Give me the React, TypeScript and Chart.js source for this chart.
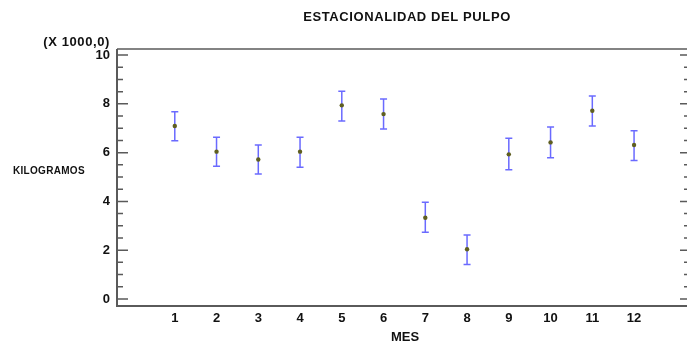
import React, { useEffect, useRef } from "react";
import { Chart, registerables } from "chart.js";

Chart.register(...registerables);

const months = [1, 2, 3, 4, 5, 6, 7, 8, 9, 10, 11, 12];
const means = [7.09, 6.04, 5.72, 6.04, 7.94, 7.58, 3.33, 2.04, 5.93, 6.42, 7.72, 6.31];
const lower = [6.49, 5.44, 5.12, 5.40, 7.30, 6.97, 2.73, 1.41, 5.30, 5.79, 7.09, 5.68];
const upper = [7.68, 6.63, 6.31, 6.63, 8.52, 8.20, 3.96, 2.62, 6.59, 7.05, 8.32, 6.90];
const yTicks = [0, 2, 4, 6, 8, 10];
const yMinorTicks = [0.5, 1, 1.5, 2.5, 3, 3.5, 4.5, 5, 5.5, 6.5, 7, 7.5, 8.5, 9, 9.5];

const TITLE = "ESTACIONALIDAD DEL PULPO";
const X_TITLE = "MES";
const Y_TITLE = "KILOGRAMOS";
const Y_MULT = "(X 1000,0)";

const FONT = "'Liberation Sans', Arial, sans-serif";
const AXIS_COLOR = "#5a5a5a";
const TEXT_COLOR = "#111";

const framePlugin = {
  id: "framePlugin",
  beforeDatasetsDraw(chart: any) {
    const { ctx, scales } = chart;
    const x = scales.x;
    const y = scales.y;
    ctx.save();
    ctx.strokeStyle = "rgba(80,80,255,0.85)";
    ctx.lineWidth = 1.5;
    months.forEach((m, i) => {
      const px = x.getPixelForValue(m);
      const pt = y.getPixelForValue(upper[i]);
      const pb = y.getPixelForValue(lower[i]);
      ctx.beginPath();
      ctx.moveTo(px, pt);
      ctx.lineTo(px, pb);
      ctx.moveTo(px - 3.5, pt);
      ctx.lineTo(px + 3.5, pt);
      ctx.moveTo(px - 3.5, pb);
      ctx.lineTo(px + 3.5, pb);
      ctx.stroke();
    });
    ctx.restore();
  },
  afterDraw(chart: any) {
    const { ctx, chartArea, scales } = chart;
    const y = scales.y;
    ctx.save();
    ctx.strokeStyle = AXIS_COLOR;
    ctx.lineWidth = 2;
    ctx.beginPath();
    ctx.moveTo(chartArea.left, chartArea.top);
    ctx.lineTo(chartArea.left, chartArea.bottom);
    ctx.lineTo(chartArea.right + 2, chartArea.bottom);
    ctx.stroke();
    ctx.lineWidth = 1.5;
    ctx.beginPath();
    ctx.moveTo(chartArea.left, chartArea.top);
    ctx.lineTo(chartArea.right + 2, chartArea.top);
    ctx.stroke();
    ctx.lineWidth = 1.5;
    ctx.beginPath();
    yTicks.forEach((v) => {
      const py = y.getPixelForValue(v);
      ctx.moveTo(chartArea.left, py);
      ctx.lineTo(chartArea.left + 11, py);
      ctx.moveTo(chartArea.right + 2, py);
      ctx.lineTo(chartArea.right - 5, py);
    });
    yMinorTicks.forEach((v) => {
      const py = y.getPixelForValue(v);
      ctx.moveTo(chartArea.left, py);
      ctx.lineTo(chartArea.left + 6, py);
      ctx.moveTo(chartArea.right + 2, py);
      ctx.lineTo(chartArea.right - 1, py);
    });
    ctx.stroke();
    ctx.fillStyle = TEXT_COLOR;
    ctx.textBaseline = "middle";
    ctx.textAlign = "center";
    ctx.font = `bold 13px ${FONT}`;
    (ctx as any).letterSpacing = "0.6px";
    ctx.fillText(TITLE, 407, 17);
    (ctx as any).letterSpacing = "0px";
    ctx.font = `bold 13px ${FONT}`;
    ctx.fillText(X_TITLE, 405, 337);
    ctx.textAlign = "right";
    (ctx as any).letterSpacing = "0.6px";
    ctx.fillText(Y_MULT, chartArea.left - 7, 42);
    ctx.font = `bold 10px ${FONT}`;
    (ctx as any).letterSpacing = "0.3px";
    ctx.textAlign = "left";
    ctx.fillText(Y_TITLE, 13, 171);
    ctx.restore();
  },
};

export default function App() {
  const ref = useRef<HTMLCanvasElement | null>(null);
  useEffect(() => {
    const canvas = ref.current;
    if (!canvas) return;
    const chart = new Chart(canvas, {
      type: "scatter",
      data: {
        datasets: [
          {
            data: months.map((m, i) => ({ x: m, y: means[i] })),
            pointRadius: 2.2,
            pointBackgroundColor: "#5f5f20",
            pointBorderColor: "#5f5f20",
            pointBorderWidth: 0,
            showLine: false,
          },
        ],
      },
      options: {
        animation: false,
        responsive: false,
        maintainAspectRatio: false,
        layout: { padding: { top: 49, right: 2, left: 0, bottom: 0 } },
        plugins: {
          legend: { display: false },
          tooltip: { enabled: false },
          title: { display: false },
        },
        scales: {
          x: {
            type: "linear",
            min: -0.384,
            max: 13.22,
            grid: { display: false, drawTicks: false },
            border: { display: false },
            afterBuildTicks: (scale: any) => {
              scale.ticks = months.map((v) => ({ value: v }));
            },
            afterFit: (scale: any) => {
              scale.height = 41;
            },
            ticks: {
              color: TEXT_COLOR,
              font: { family: FONT, size: 13, weight: "bold" },
              padding: 5,
              maxRotation: 0,
              autoSkip: false,
              callback: (v: any) => String(v),
            },
          },
          y: {
            type: "linear",
            min: -0.29,
            max: 10.25,
            grid: { display: false, drawTicks: false },
            border: { display: false },
            afterBuildTicks: (scale: any) => {
              scale.ticks = yTicks.map((v) => ({ value: v }));
            },
            afterFit: (scale: any) => {
              scale.width = 117;
            },
            ticks: {
              color: TEXT_COLOR,
              font: { family: FONT, size: 13, weight: "bold" },
              padding: 7,
              callback: (v: any) => String(v),
            },
          },
        },
      },
      plugins: [framePlugin],
    });
    return () => chart.destroy();
  }, []);
  return (
    <div style={{ position: "absolute", left: 0, top: 0, width: 689, height: 347, background: "#fff" }}>
      <canvas ref={ref} width={689} height={347} style={{ display: "block", width: 689, height: 347 }} />
    </div>
  );
}
